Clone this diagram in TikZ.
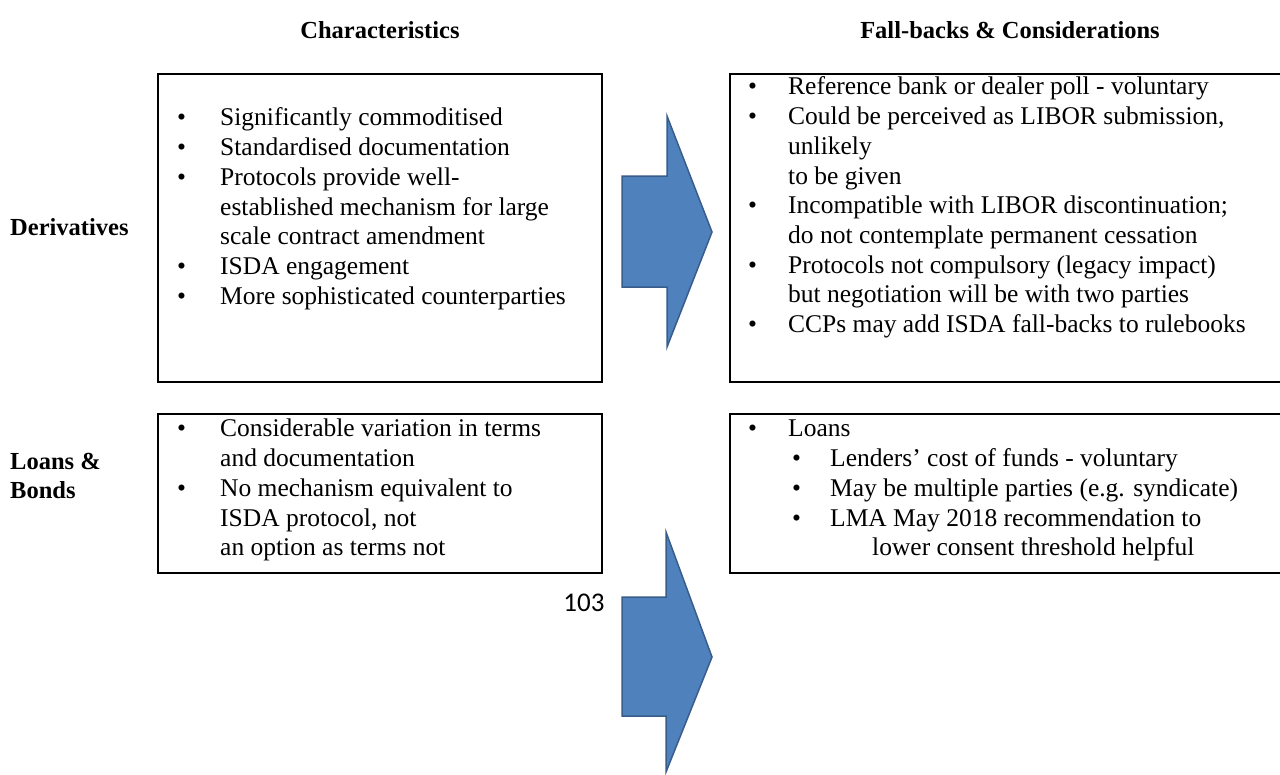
\documentclass[tikz,border=0pt]{standalone}
\usepackage{fontspec}
\setmainfont{Liberation Serif}
\newfontfamily\calib{Carlito}
\definecolor{arrfill}{HTML}{4F81BD}
\definecolor{arrline}{HTML}{385D8A}
\begin{document}
\begin{tikzpicture}[x=1pt,y=1pt,
  box/.style={draw=black,line width=2pt,rectangle,anchor=north west,inner sep=0pt},
  blk/.style={anchor=north west,inner sep=0pt,font=\fontsize{25.5}{29.7}\selectfont},
  head/.style={font=\fontsize{24.5}{28.5}\selectfont\bfseries,inner sep=0pt},
  barrow/.style={fill=arrfill,draw=arrline,line width=1.5pt,line join=miter}]
\useasboundingbox (0,0) rectangle (1280,-774);
\fill[white] (0,0) rectangle (1280,-774);

% headings
\node[head] (hc) at (380,-30) {Characteristics};
\node[head] (hf) at (1010,-30) {Fall-backs \& Considerations};

% row labels
\node[head,anchor=west] (ld) at (10,-227) {Derivatives};
\node[head,anchor=west,align=left] (ll) at (10,-476) {Loans \&\\Bonds};

% boxes
\node[box,minimum width=444pt,minimum height=308pt] (bd1) at (157,-73) {};
\node[box,minimum width=570pt,minimum height=308pt] (bd2) at (729,-73) {};
\node[box,minimum width=444pt,minimum height=159pt] (bl1) at (157,-413) {};
\node[box,minimum width=570pt,minimum height=159pt] (bl2) at (729,-413) {};

% box texts
\node[blk] (td1) at (177,-105) {\begin{tabular}{@{}p{43pt}@{}l@{}}
\textbullet & Significantly commoditised\\
\textbullet & Standardised documentation\\
\textbullet & Protocols provide well-\\
 & established mechanism for large\\
 & scale contract amendment\\
\textbullet & ISDA engagement\\
\textbullet & More sophisticated counterparties
\end{tabular}};

\node[blk] (td2) at (748,-74) {\begin{tabular}{@{}p{40pt}@{}l@{}}
\textbullet & Reference bank or dealer poll - voluntary\\
\textbullet & Could be perceived as LIBOR submission,\\
 & unlikely\\
 & to be given\\
\textbullet & Incompatible with LIBOR discontinuation;\\
 & do not contemplate permanent cessation\\
\textbullet & Protocols not compulsory (legacy impact)\\
 & but negotiation will be with two parties\\
\textbullet & CCPs may add ISDA fall-backs to rulebooks
\end{tabular}};

\node[blk] (tl1) at (177,-416) {\begin{tabular}{@{}p{43pt}@{}l@{}}
\textbullet & Considerable variation in terms\\
 & and documentation\\
\textbullet & No mechanism equivalent to\\
 & ISDA protocol, not\\
 & an option as terms not
\end{tabular}};

\node[blk] (tl2) at (748,-416) {\begin{tabular}{@{}l@{}}
\makebox[40pt][l]{\textbullet}Loans\\
\hspace*{44pt}\makebox[38pt][l]{\textbullet}Lenders’ cost of funds - voluntary\\
\hspace*{44pt}\makebox[38pt][l]{\textbullet}May be multiple parties (e.g. syndicate)\\
\hspace*{44pt}\makebox[38pt][l]{\textbullet}LMA May 2018 recommendation to\\
\hspace*{124pt}lower consent threshold helpful
\end{tabular}};

% arrows
\draw[barrow] (622,-176) -- (667,-176) -- (667,-116) -- (712,-232) -- (667,-347) -- (667,-287) -- (622,-287) -- cycle;
\draw[barrow] (622,-597) -- (666,-597) -- (666,-532) -- (712,-657) -- (666,-772) -- (666,-716) -- (622,-716) -- cycle;

% page number
\node[font=\calib\fontsize{27}{30}\selectfont,inner sep=0pt] (pg) at (584,-603) {103};
\end{tikzpicture}
\end{document}
